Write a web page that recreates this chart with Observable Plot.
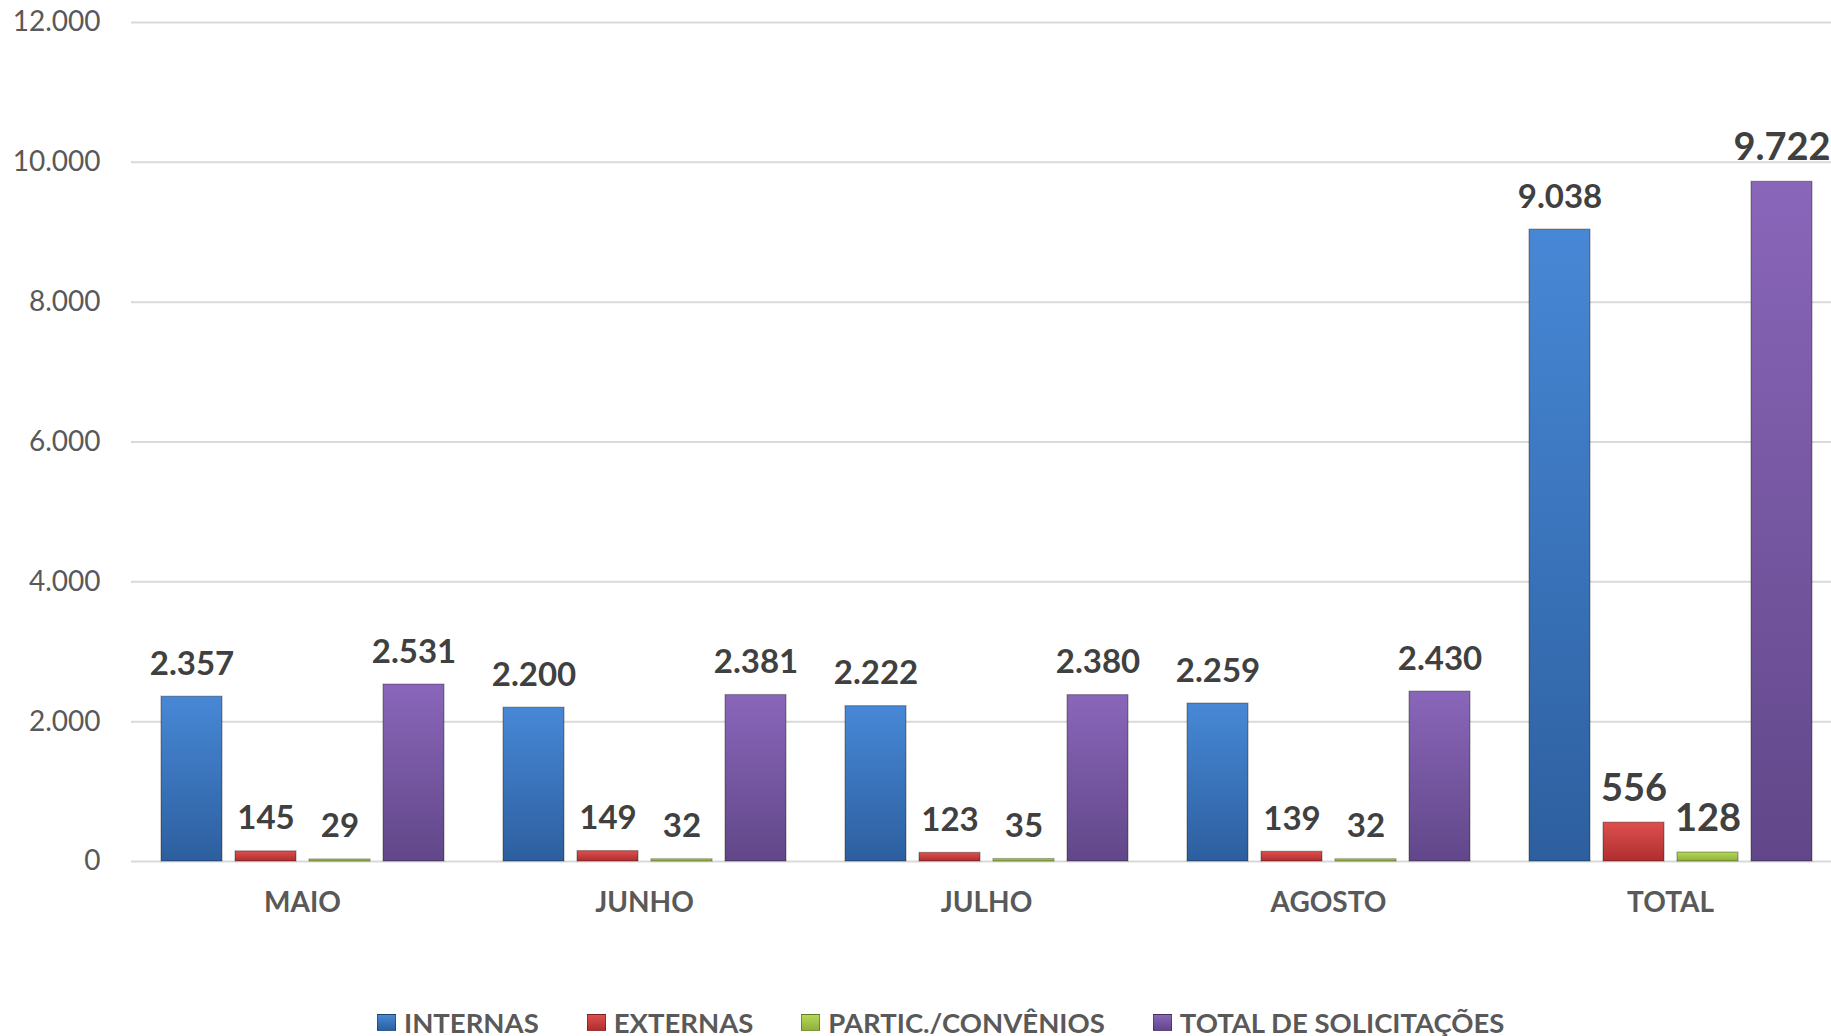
<!DOCTYPE html>
<html><head><meta charset="utf-8">
<script src="https://cdn.jsdelivr.net/npm/d3@7"></script>
<script src="https://cdn.jsdelivr.net/npm/@observablehq/plot@0.6"></script>
<style>
html,body{margin:0;background:#fff;width:1831px;height:1036px;overflow:hidden;}
body{font-family:Lato,"Open Sans",sans-serif;position:relative;}
#chart{position:absolute;left:0;top:0;width:1831px;overflow:hidden;}
#legend{position:absolute;left:377px;top:1006px;display:flex;align-items:center;font-weight:bold;font-size:27.5px;color:#595959;white-space:nowrap;}
#legend .item{display:flex;align-items:center;margin-right:48px;}
#legend .sw{width:19px;height:17px;margin-right:8px;box-sizing:border-box;border:1px solid rgba(0,0,0,0.3);}
</style></head>
<body><div id="chart"></div><div id="legend"></div>
<script>
const months = ["MAIO", "JUNHO", "JULHO", "AGOSTO", "TOTAL"];
const series = ["INTERNAS", "EXTERNAS", "PARTIC./CONVÊNIOS", "TOTAL DE SOLICITAÇÕES"];
const internas = [2357, 2200, 2222, 2259, 9038];
const externas = [145, 149, 123, 139, 556];
const partic = [29, 32, 35, 32, 128];
const totalSolic = [2531, 2381, 2380, 2430, 9722];
const yTicks = [0, 2000, 4000, 6000, 8000, 10000, 12000];
const topColors = ["#4788d6", "#de4f4f", "#b5d85a", "#8a66ba"];
const bottomColors = ["#2d5f9f", "#b02e2e", "#8fb13a", "#614789"];

const seriesValues = [internas, externas, partic, totalSolic];
const data = months.flatMap((m, i) => series.map((s, j) => ({month: m, series: s, value: seriesValues[j][i]})));
const gradIds = series.map((s, j) => "grad" + j);
const fmt = d3.formatLocale({decimal: ",", thousands: ".", grouping: [3], currency: ["", ""]}).format(",d");

const plot = Plot.plot({
  width: 1831, height: 940,
  marginTop: 22, marginBottom: 79, marginLeft: 129, marginRight: -12,
  style: {fontFamily: "Lato, 'Open Sans', sans-serif", background: "white", overflow: "hidden"},
  fx: {domain: months, padding: 0, label: null},
  x: {domain: series, paddingInner: 0.179, paddingOuter: 0.397, axis: null},
  y: {domain: [0, 12000], label: null},
  color: {type: "ordinal", domain: series, range: gradIds.map(id => `url(#${id})`)},
  marks: [
    Plot.gridY(yTicks, {stroke: "#d9d9d9", strokeWidth: 2, strokeOpacity: 1}),
    Plot.axisY(yTicks, {tickSize: 0, tickPadding: 31, fontSize: 28, fill: "#595959", tickFormat: fmt, label: null}),
    Plot.axisFx({anchor: "bottom", tickSize: 0, tickPadding: 31, fontSize: 28, fontWeight: "bold", fill: "#595959", label: null}),
    Plot.barY(data, {fx: "month", x: "series", y: "value", fill: "series", stroke: "rgba(0,0,0,0.3)", strokeWidth: 1.2}),
    Plot.text(data, {
      fx: "month", x: "series", y: "value",
      text: d => fmt(d.value), dy: -22, lineAnchor: "bottom",
      fontWeight: "bold", fill: "#404040",
      fontSize: d => (d.month === "TOTAL" && d.series !== "INTERNAS") ? 38 : 33
    })
  ]
});

const defs = d3.select(plot).insert("defs", ":first-child");
series.forEach((s, j) => {
  const g = defs.append("linearGradient").attr("id", gradIds[j]).attr("x1", 0).attr("y1", 0).attr("x2", 0).attr("y2", 1);
  g.append("stop").attr("offset", "0%").attr("stop-color", topColors[j]);
  g.append("stop").attr("offset", "100%").attr("stop-color", bottomColors[j]);
});
document.getElementById("chart").appendChild(plot);

const legend = document.getElementById("legend");
series.forEach((s, j) => {
  const item = document.createElement("div");
  item.className = "item";
  const sw = document.createElement("span");
  sw.className = "sw";
  sw.style.background = `linear-gradient(${topColors[j]}, ${bottomColors[j]})`;
  const t = document.createElement("span");
  t.textContent = s;
  item.appendChild(sw); item.appendChild(t);
  legend.appendChild(item);
});
</script>
</body></html>
